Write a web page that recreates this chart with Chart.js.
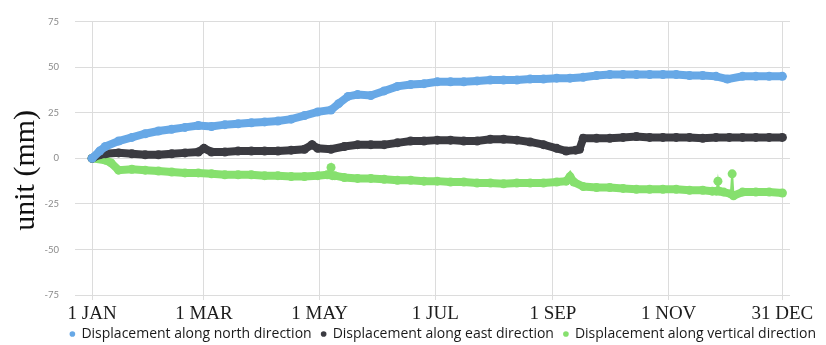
<!DOCTYPE html>
<html>
<head>
<meta charset="utf-8">
<script src="https://cdn.jsdelivr.net/npm/chart.js@4/dist/chart.umd.min.js"></script>
<style>
  html, body { margin: 0; padding: 0; background: #ffffff; }
  #wrap { width: 826px; height: 345px; position: relative; }
</style>
</head>
<body>
<div id="wrap"><canvas id="chart"></canvas></div>
<script>
// Day of year (0 = 1 Jan) and displacement in mm for each direction
const northDays = [0, 4, 7, 14, 21, 28, 35, 42, 49, 56, 63, 70, 77, 84, 91, 98, 105, 112, 119, 126, 130, 135, 140, 147, 154, 161, 168, 175, 182, 189, 196, 203, 210, 217, 224, 231, 238, 245, 252, 259, 266, 273, 280, 287, 294, 301, 308, 315, 322, 329, 335, 343, 350, 357, 364];
const northMm   = [0, 4, 6.5, 9.5, 11.5, 13.5, 15, 16, 17, 18, 17.5, 18.5, 19, 19.5, 20, 20.5, 21.5, 23.5, 25.5, 26.5, 30, 34, 35, 34.5, 37, 39.5, 40.5, 41, 42, 42, 42, 42.5, 43, 43, 43, 43.5, 43.5, 44, 44, 44.5, 45.5, 46, 46, 46, 46, 46, 46, 45.5, 45.5, 45, 43.5, 45, 45, 45, 45];

const eastDays = [0, 4, 7, 14, 21, 28, 35, 42, 49, 56, 59, 63, 70, 77, 84, 91, 98, 105, 112, 116, 119, 126, 133, 140, 147, 154, 161, 168, 175, 182, 189, 196, 203, 210, 217, 224, 231, 238, 245, 250, 255, 257, 259, 266, 273, 280, 287, 294, 301, 308, 315, 322, 329, 336, 343, 350, 357, 364];
const eastMm   = [0, 2, 2.5, 3, 2.5, 2, 2, 2.5, 3, 3.5, 5.5, 3.5, 3.5, 4, 4, 4, 4, 4.5, 5, 7.5, 5.5, 5, 6.5, 7.5, 7.5, 7.5, 8.5, 9.5, 9.5, 10, 10, 9.5, 9.5, 10.5, 10.5, 10, 9, 7.5, 5.5, 4, 4.5, 5, 11, 11, 11, 11.5, 12, 11.5, 11.5, 11.5, 11.5, 11, 11.5, 11.5, 11.5, 11.5, 11.5, 11.5];

const verticalDays = [0, 7, 10, 14, 21, 28, 35, 42, 49, 56, 63, 70, 77, 84, 91, 98, 105, 112, 119, 124, 125.3, 126, 126.7, 128, 133, 140, 147, 154, 161, 168, 175, 182, 189, 196, 203, 210, 217, 224, 231, 238, 245, 250, 252, 254, 259, 266, 273, 280, 287, 294, 301, 308, 315, 322, 327, 329.3, 330, 330.7, 333, 336.8, 337.5, 338.2, 343, 350, 357, 364];
const verticalMm   = [0, -1, -2.5, -6.5, -6, -6.5, -7, -7.5, -8, -8, -8.5, -9, -9, -9, -9.5, -9.5, -10, -10, -9.5, -9, -9, -5, -9.5, -9.5, -10.5, -11, -11, -11.5, -12, -12, -12.5, -12.5, -13, -13, -13.5, -13.5, -14, -13.5, -13.5, -13.5, -13, -12.5, -10, -13, -15.5, -16, -16, -16.5, -17, -17, -17, -17, -17.5, -17.5, -18, -18, -12.5, -18, -18.5, -19.5, -8.5, -20.5, -18.5, -18.5, -18.5, -19];

// Isolated readings drawn as thin stems instead of the thick band
const verticalStemDays = [126, 330, 337.5];

// Date ticks along the x axis
const tickDays   = [0, 59, 120, 181, 243, 304, 364];
const tickLabels = ['1 JAN', '1 MAR', '1 MAY', '1 JUL', '1 SEP', '1 NOV', '31 DEC'];

const seriesNames = [
  'Displacement along north direction',
  'Displacement along east direction',
  'Displacement along vertical direction'
];
const seriesColors = ['#67a8e6', '#3b3b41', '#86e06e'];

const toPoints = (days, vals) => days.map((d, i) => ({ x: d, y: vals[i] }));

const makeSet = (idx, days, vals, stems) => {
  const pts = toPoints(days, vals);
  return {
    label: seriesNames[idx],
    data: pts,
    borderColor: seriesColors[idx],
    backgroundColor: seriesColors[idx],
    borderWidth: 8,
    pointRadius: 4.5,
    pointHoverRadius: 4.5,
    pointBorderWidth: 0,
    tension: 0,
    fill: false,
    segment: {
      borderWidth: ctx => {
        const a = pts[ctx.p0DataIndex].x, b = pts[ctx.p1DataIndex].x;
        return (stems.includes(a) || stems.includes(b)) ? 2 : 8;
      }
    }
  };
};

// Rotated y-axis caption drawn beside the tick labels
const yCaption = {
  id: 'yCaption',
  afterDraw(chart) {
    const { ctx, chartArea } = chart;
    ctx.save();
    ctx.translate(chartArea.left - 49, (chartArea.top + chartArea.bottom) / 2 + 12);
    ctx.rotate(-Math.PI / 2);
    ctx.font = '30px "Liberation Serif", "Times New Roman", serif';
    ctx.fillStyle = '#111111';
    ctx.textAlign = 'center';
    ctx.textBaseline = 'middle';
    ctx.fillText('unit (mm)', 0, 0);
    ctx.restore();
  }
};

// Let the date labels hang below the axis box without being clipped
const labelRoom = {
  id: 'labelRoom',
  afterLayout(chart) {
    chart.scales.x.bottom = chart.height;
  }
};

new Chart(document.getElementById('chart'), {
  type: 'line',
  data: {
    datasets: [
      makeSet(0, northDays, northMm, []),
      makeSet(1, eastDays, eastMm, []),
      makeSet(2, verticalDays, verticalMm, verticalStemDays)
    ]
  },
  options: {
    responsive: true,
    maintainAspectRatio: false,
    animation: false,
    layout: { padding: { top: 18, right: 0, bottom: -6, left: 0 } },
    plugins: {
      legend: {
        position: 'bottom',
        align: 'end',
        labels: {
          usePointStyle: true,
          pointStyle: 'circle',
          boxWidth: 4,
          boxHeight: 4,
          padding: 10,
          color: '#1a1a1a',
          font: { family: '"Open Sans", Lato, sans-serif', size: 14 }
        }
      },
      tooltip: { enabled: false }
    },
    scales: {
      x: {
        type: 'linear',
        min: -9,
        max: 368,
        afterBuildTicks(scale) {
          scale.ticks = tickDays.map(v => ({ value: v }));
        },
        afterFit(scale) {
          scale.height = 22;
          scale.paddingRight = 36;
        },
        grid: { color: '#dcdcdc', lineWidth: 1, tickLength: 5, drawTicks: true },
        border: { display: false },
        ticks: {
          autoSkip: false,
          maxRotation: 0,
          padding: 3,
          color: '#1c1c1c',
          font: { family: '"Liberation Serif", "Times New Roman", serif', size: 19 },
          callback(value) {
            const i = tickDays.indexOf(value);
            return i >= 0 ? tickLabels[i] : '';
          }
        }
      },
      y: {
        min: -75,
        max: 75,
        afterFit(scale) {
          scale.width = 75;
        },
        grid: { color: '#dcdcdc', lineWidth: 1, drawTicks: false },
        border: { display: false },
        ticks: {
          stepSize: 25,
          padding: 16,
          color: '#8a8a8a',
          font: { family: 'Lato, "Open Sans", sans-serif', size: 9.5 }
        }
      }
    }
  },
  plugins: [yCaption, labelRoom]
});
</script>
</body>
</html>
